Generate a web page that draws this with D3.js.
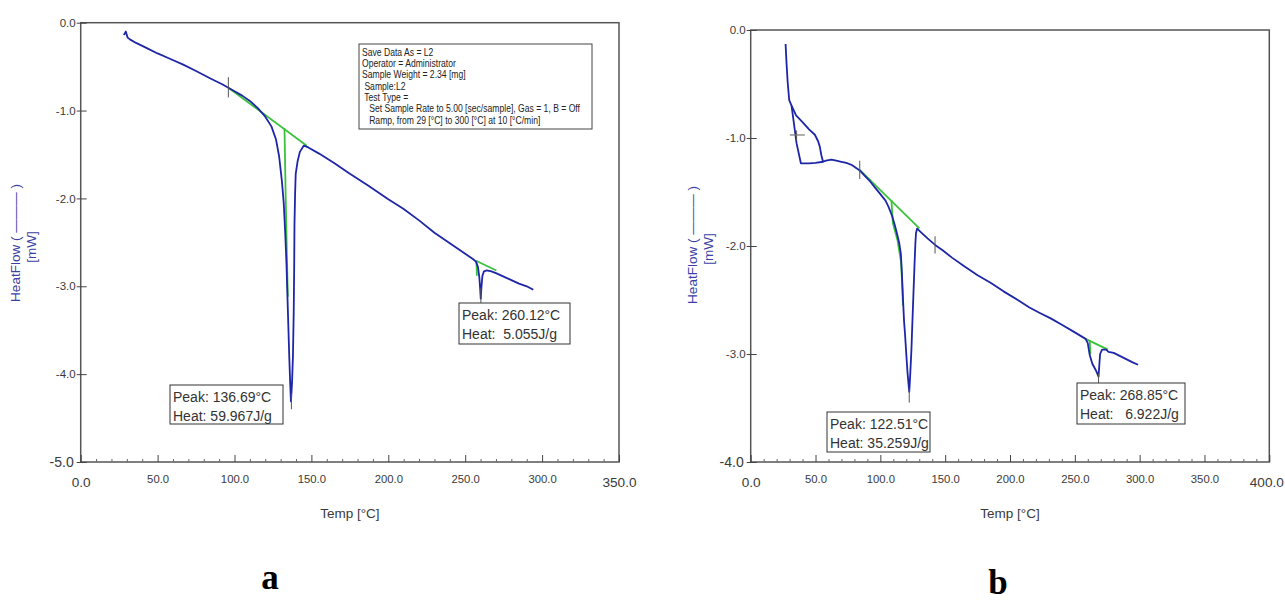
<!DOCTYPE html>
<html>
<head>
<meta charset="utf-8">
<script src="https://cdn.jsdelivr.net/npm/d3@7/dist/d3.min.js"></script>
<style>
  body { margin: 0; background: #fff; }
  svg { display: block; font-family: "Liberation Sans", Arial, sans-serif; }
</style>
</head>
<body>
<script>
// ticks
var xTicksA = [0, 50, 100, 150, 200, 250, 300, 350],
	yTicksA = [0, -1, -2, -3, -4, -5],
	xTicksB = [0, 50, 100, 150, 200, 250, 300, 350, 400],
	yTicksB = [0, -1, -2, -3, -4];

// panel a : [temp, heatflow]
var curveA = [[28.0,-0.14],[28.8,-0.12],[29.3,-0.10],[29.8,-0.13],[30.5,-0.17],[32,-0.19],[36,-0.23],[43,-0.29],[50,-0.35],[58,-0.41],[67,-0.48],[75,-0.55],[85,-0.64],[92,-0.70],[96,-0.74],[100,-0.78],[105,-0.83],[110,-0.89],[115,-0.97],[120,-1.07],[124,-1.18],[127,-1.33],[129,-1.52],[130.8,-1.80],[132,-2.05],[133,-2.40],[133.8,-2.75],[134.4,-3.10],[135,-3.45],[135.6,-3.80],[136.2,-4.10],[136.7,-4.31],[137.4,-4.10],[138,-3.80],[138.5,-3.30],[138.8,-2.80],[139,-2.30],[139.4,-1.95],[139.8,-1.72],[141,-1.58],[142.5,-1.47],[145,-1.40],[148,-1.42],[155,-1.49],[165,-1.60],[175,-1.72],[186.6,-1.85],[200,-2.01],[210,-2.12],[220,-2.25],[230,-2.39],[240,-2.51],[250,-2.63],[255,-2.69],[257,-2.72],[258.3,-2.78],[259.2,-2.90],[259.8,-3.05],[260.1,-3.14],[260.6,-3.00],[261.2,-2.88],[262.2,-2.83],[264,-2.82],[267,-2.83],[270,-2.85],[275,-2.89],[280,-2.93],[285,-2.97],[290,-3.00],[294.3,-3.04]],
	baseA1 = [[96,-0.74],[147,-1.40]],
	partA1 = [[132.5,-1.20],[133.3,-2.00],[134.0,-2.60],[134.7,-3.12]],
	baseA2 = [[257,-2.71],[270.3,-2.82]],
	partA2 = [[257.3,-2.71],[257.6,-2.88]],
	marksA = [[96,-0.62,-0.85],[137,-4.22,-4.40],[260.2,-3.02,-3.22]];

// panel b
var curveB = [[26.9,-0.13],[27.6,-0.30],[28.5,-0.48],[29.7,-0.65],[31.5,-0.70],[35,-0.79],[40.5,-0.86],[45,-0.92],[49.5,-0.97],[52,-1.03],[53.3,-1.08],[54.5,-1.16],[55.8,-1.22],[58,-1.21],[62.3,-1.20],[66,-1.21],[70,-1.22],[73.8,-1.23],[78,-1.25],[84.1,-1.30],[88,-1.35],[92,-1.40],[95.3,-1.45],[100,-1.52],[104,-1.58],[106.4,-1.64],[109,-1.72],[111,-1.80],[112.7,-1.88],[114.5,-1.97],[115.8,-2.07],[116.6,-2.25],[117.5,-2.50],[118.3,-2.70],[119,-2.81],[120,-3.00],[121,-3.18],[122.3,-3.35],[123,-3.20],[124,-2.95],[124.4,-2.81],[125.2,-2.55],[126.3,-2.19],[127,-1.98],[127.5,-1.88],[128.3,-1.84],[129.4,-1.85],[132,-1.88],[136.4,-1.93],[142.2,-1.99],[148,-2.04],[155.5,-2.11],[165,-2.19],[175,-2.27],[185,-2.34],[195,-2.42],[206,-2.50],[215,-2.57],[223,-2.62],[231.4,-2.67],[240,-2.73],[250,-2.80],[258.3,-2.86],[260,-2.90],[261.5,-3.01],[263.5,-3.09],[266.2,-3.15],[268.3,-3.21],[268.9,-3.10],[269.5,-3.00],[271,-2.96],[274.1,-2.96],[276,-2.98],[280,-2.99],[285,-3.02],[290,-3.05],[295,-3.08],[298.8,-3.10]],
	loopB = [[31.5,-0.70],[35.4,-1.05],[38.7,-1.234],[45,-1.235],[50,-1.23],[55.8,-1.22]],
	baseB1 = [[84.1,-1.296],[130.1,-1.836]],
	partB1 = [[108.5,-1.574],[109.7,-1.79],[113.3,-1.95],[116.0,-2.15],[117.0,-2.40],[117.4,-2.55]],
	baseB2 = [[258.3,-2.86],[275.6,-2.96]],
	partB2 = [[261.5,-2.87],[262.0,-3.00]],
	marksB = [[84.1,-1.21,-1.38],[142.2,-1.91,-2.07],[35.4,-0.93,-1.02],[122.3,-3.32,-3.45],[268.3,-3.18,-3.31]],
	crossB = [[30.2,41.8,-0.972]];

var legendLines = ["Save Data As = L2", "Operator = Administrator", "Sample Weight = 2.34 [mg]",
	" Sample:L2", " Test Type =",
	"   Set Sample Rate to 5.00 [sec/sample], Gas = 1, B = Off",
	"   Ramp, from 29 [°C] to 300 [°C] at 10 [°C/min]"];

var blue = "#1e26a8", green = "#3ac23a", frameCol = "#555", txtCol = "#3a3a3a";
var fmt = function(d){ return d3.format(".1f")(d).replace("\u2212", "-"); };

var svg = d3.select("body").append("svg").attr("width", 1285).attr("height", 601);

function drawPanel(p){
	var x = d3.scaleLinear().domain(p.xDom).range(p.xRange),
		y = d3.scaleLinear().domain(p.yDom).range(p.yRange);
	var g = svg.append("g");
	var line = d3.line().x(function(d){return x(d[0]);}).y(function(d){return y(d[1]);});

	// frame
	g.append("rect")
		.attr("x", p.xRange[0]).attr("y", p.yRange[1])
		.attr("width", p.xRange[1] - p.xRange[0]).attr("height", p.yRange[0] - p.yRange[1])
		.attr("fill", "none").attr("stroke", frameCol).attr("stroke-width", 1.5);

	// minor x ticks
	var minor = d3.range(p.xDom[0], p.xDom[1] + 0.1, 10).filter(function(v){return v % 50 !== 0;});
	g.append("g").attr("transform", "translate(0," + p.yRange[0] + ")")
		.call(d3.axisBottom(x).tickValues(minor).tickSize(-3).tickFormat(""))
		.call(function(s){ s.select(".domain").remove(); s.selectAll("line").attr("stroke", "#666"); });

	// major x ticks
	var xa = g.append("g").attr("transform", "translate(0," + p.yRange[0] + ")")
		.call(d3.axisBottom(x).tickValues(p.xTicks).tickSizeInner(-7).tickSizeOuter(0).tickPadding(13).tickFormat(fmt));
	xa.select(".domain").remove();
	xa.selectAll("line").attr("stroke", "#444");
	xa.selectAll("text").attr("fill", txtCol).style("font-size", "11.3px")
		.style("font-family", "'Liberation Sans', Arial, sans-serif");
	xa.selectAll(".tick").filter(function(d, i){ return i === 0 || i === p.xTicks.length - 1; })
		.select("text").style("font-size", "13.6px").attr("y", 15);
	xa.selectAll(".tick").filter(function(d, i){ return i === p.xTicks.length - 1; })
		.select("text").attr("x", p.lastDx || 0);

	// y ticks
	var ya = g.append("g").attr("transform", "translate(" + p.xRange[0] + ",0)")
		.call(d3.axisLeft(y).tickValues(p.yTicks).tickSizeInner(-6).tickSizeOuter(0).tickPadding(5).tickFormat(fmt));
	ya.select(".domain").remove();
	ya.selectAll("line").attr("x1", -4).attr("stroke", "#444");
	ya.selectAll("text").attr("fill", txtCol).style("font-size", "11.5px")
		.style("font-family", "'Liberation Sans', Arial, sans-serif");
	ya.selectAll(".tick").filter(function(d){ return d === p.yDom[0]; })
		.select("text").style("font-size", "14px").attr("x", -7);

	// axis titles
	g.append("text").attr("x", (p.xRange[0] + p.xRange[1]) / 2).attr("y", 518)
		.attr("text-anchor", "middle").attr("fill", txtCol).style("font-size", "13.5px").text("Temp [°C]");
	g.append("text").attr("transform", "translate(" + p.yLabX + "," + p.yLabY + ") rotate(-90)")
		.attr("text-anchor", "middle").attr("fill", "#3b3fa6").style("font-size", "13.5px")
		.text("HeatFlow ( ——— )");
	g.append("text").attr("transform", "translate(" + (p.yLabX + 16) + "," + (p.yLabY + 4) + ") rotate(-90)")
		.attr("text-anchor", "middle").attr("fill", "#3b3fa6").style("font-size", "13.5px")
		.text("[mW]");

	// green integration lines
	p.greens.forEach(function(s){
		g.append("path").datum(s).attr("d", line).attr("fill", "none")
			.attr("stroke", green).attr("stroke-width", 1.8);
	});
	// curves
	p.curves.forEach(function(s){
		g.append("path").datum(s).attr("d", line).attr("fill", "none")
			.attr("stroke", blue).attr("stroke-width", 1.8).attr("stroke-linejoin", "round");
	});
	// markers
	g.selectAll(".mk").data(p.marks).enter().append("line")
		.attr("x1", function(d){return x(d[0]);}).attr("x2", function(d){return x(d[0]);})
		.attr("y1", function(d){return y(d[1]);}).attr("y2", function(d){return y(d[2]);})
		.attr("stroke", "#555").attr("stroke-width", 1);
	g.selectAll(".cr").data(p.cross || []).enter().append("line")
		.attr("x1", function(d){return x(d[0]);}).attr("x2", function(d){return x(d[1]);})
		.attr("y1", function(d){return y(d[2]);}).attr("y2", function(d){return y(d[2]);})
		.attr("stroke", "#777").attr("stroke-width", 1.2);

	// peak boxes
	p.boxes.forEach(function(b){
		g.append("rect").attr("x", b.x).attr("y", b.y).attr("width", b.w).attr("height", b.h)
			.attr("fill", "#fff").attr("stroke", "#333").attr("stroke-width", 1);
		b.lines.forEach(function(t, i){
			g.append("text").attr("x", b.x + 3).attr("y", b.y + 17 + i * 18.5)
				.attr("fill", "#333").style("font-size", "14px").style("white-space", "pre").text(t);
		});
	});

	// panel letter
	g.append("text").attr("x", p.letterX).attr("y", p.letterY).attr("text-anchor", "middle")
		.style("font-family", "'Liberation Serif', 'Times New Roman', serif").style("font-weight", "bold")
		.style("font-size", "35px").attr("fill", "#000").text(p.letter);
	return g;
}

var gA = drawPanel({
	xDom: [0, 350], xRange: [80.7, 619], yDom: [-5, 0], yRange: [462, 22.7],
	xTicks: xTicksA, yTicks: yTicksA, yLabX: 20, yLabY: 243,
	curves: [curveA], greens: [baseA1, partA1, baseA2, partA2], marks: marksA,
	boxes: [
		{x: 170, y: 385, w: 113, h: 39, lines: ["Peak: 136.69°C", "Heat: 59.967J/g"]},
		{x: 459, y: 303, w: 111, h: 41, lines: ["Peak: 260.12°C", "Heat:  5.055J/g"]}
	],
	letter: "a", letterX: 270, letterY: 589
});

drawPanel({
	xDom: [0, 400], xRange: [750.7, 1269.3], yDom: [-4, 0], yRange: [462, 30],
	xTicks: xTicksB, yTicks: yTicksB, yLabX: 697, yLabY: 245, lastDx: -3,
	curves: [curveB, loopB], greens: [baseB1, partB1, baseB2, partB2], marks: marksB, cross: crossB,
	boxes: [
		{x: 827, y: 412, w: 103, h: 40, lines: ["Peak: 122.51°C", "Heat: 35.259J/g"]},
		{x: 1077, y: 383, w: 108, h: 41, lines: ["Peak: 268.85°C", "Heat:   6.922J/g"]}
	],
	letter: "b", letterX: 998, letterY: 594
});

// info box on panel a
gA.append("rect").attr("x", 359).attr("y", 44).attr("width", 233).attr("height", 85)
	.attr("fill", "#fff").attr("stroke", "#444").attr("stroke-width", 1);
gA.append("g").attr("transform", "translate(362,0) scale(0.86,1)")
	.selectAll(".leg").data(legendLines).enter().append("text")
	.attr("x", 0).attr("y", function(d, i){ return 55.8 + i * 11.3; })
	.attr("fill", "#222").style("font-size", "10px").style("white-space", "pre")
	.text(function(d){ return d; });
</script>
</body>
</html>
